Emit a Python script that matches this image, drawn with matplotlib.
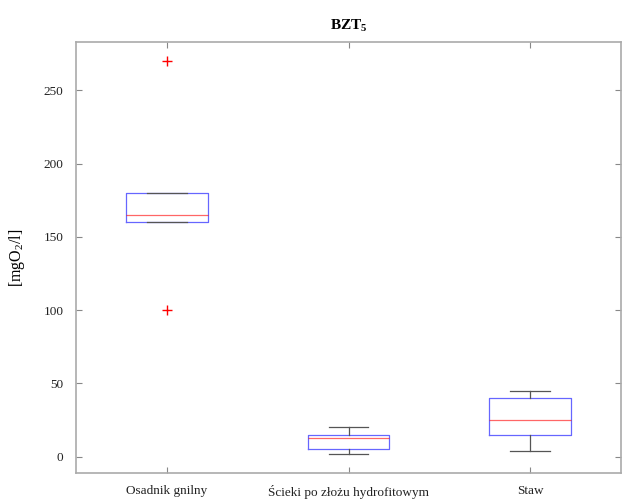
import matplotlib
matplotlib.use("Agg")
import matplotlib.pyplot as plt

plt.rcParams['font.family'] = ['Liberation Serif', 'DejaVu Serif']
plt.rcParams['mathtext.fontset'] = 'custom'
plt.rcParams['mathtext.rm'] = 'Liberation Serif'
plt.rcParams['mathtext.bf'] = 'Liberation Serif:bold'

# dane
kategorie = ["Osadnik gnilny", "Ścieki po złożu hydrofitowym", "Staw"]
q1 = [160, 5, 15]
mediana = [165, 12.5, 25]
q3 = [180, 15, 40]
wasy_dol = [160, 2, 4]
wasy_gora = [180, 20, 45]
odstajace = [[270, 100], [], []]

stats = []
for i in range(len(kategorie)):
    stats.append({"med": mediana[i], "q1": q1[i], "q3": q3[i],
                  "whislo": wasy_dol[i], "whishi": wasy_gora[i],
                  "fliers": odstajace[i], "label": kategorie[i]})

fig = plt.figure(figsize=(6.22, 5.03), dpi=100)
ax = fig.add_axes([0.1222, 0.0602, 0.8762, 0.8563])

ax.bxp(stats, positions=[1, 2, 3], widths=0.45, showfliers=True,
       boxprops=dict(color="#0000ff", linewidth=0.9, alpha=0.6),
       medianprops=dict(color="#ff0000", linewidth=0.9, alpha=0.6),
       whiskerprops=dict(color="#555555", linewidth=0.9),
       capprops=dict(color="#555555", linewidth=0.9),
       capwidths=0.22,
       flierprops=dict(marker="+", markeredgecolor="red", markersize=7,
                       linestyle="none"))

ax.set_xlim(0.5, 3.5)
ax.set_ylim(-11, 283)
ax.set_yticks([0, 50, 100, 150, 200, 250])
ax.set_xticks([1, 2, 3])
ax.set_xticklabels(kategorie)

for s in ax.spines.values():
    s.set_color("#aaaaaa")
    s.set_linewidth(1.2)
ax.tick_params(direction="in", top=True, right=True, color="#888888",
               labelsize=9.5, labelcolor="#222222", length=4)
ax.tick_params(axis="x", pad=9)
ax.tick_params(axis="y", pad=9)

ax.set_ylabel("[mgO$_{\\mathrm{2}}$/l]", fontsize=11.5, labelpad=12)
ax.set_title("BZT$_{\\mathbf{5}}$", fontsize=11, fontweight="bold", pad=9)

fig.savefig("out.png", dpi=100)
